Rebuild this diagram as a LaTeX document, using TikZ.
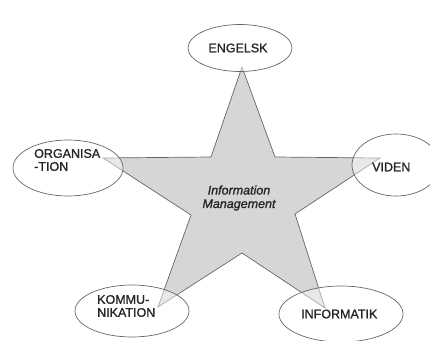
\documentclass[tikz,border=0pt]{standalone}
\usepackage{fontspec}
\setmainfont{Liberation Sans}
\newfontfamily\lblfont[FakeBold=1.2]{Liberation Sans}
\usetikzlibrary{shapes.geometric}
\definecolor{starfill}{HTML}{D6D6D6}
\definecolor{lineg}{HTML}{666666}
\begin{document}
\begin{tikzpicture}[x=1pt,y=-1pt,
  oval/.style={ellipse,draw=lineg,line width=0.7pt,fill=white,fill opacity=0.45,inner sep=0pt},
  lbl/.style={font=\lblfont\fontsize{12.5}{13}\selectfont,text=black!85,align=left,inner sep=0pt},
  starpath/.style={draw=lineg,fill=starfill,line width=0.7pt,line join=miter}]
\useasboundingbox (0,0) rectangle (430,340);
% star vertices
\coordinate (pT) at (242,67);
\coordinate (iUR) at (275,157);
\coordinate (pR) at (380,158);
\coordinate (iR) at (295,214);
\coordinate (pBR) at (325,308);
\coordinate (iB) at (242,253);
\coordinate (pBL) at (158,307);
\coordinate (iL) at (191,215);
\coordinate (pL) at (103,158);
\coordinate (iUL) at (211,157);
\draw[starpath] (pT) -- (iUR) -- (pR) -- (iR) -- (pBR) -- (iB) -- (pBL) -- (iL) -- (pL) -- (iUL) -- cycle;
% ellipses
\node[oval,minimum width=104pt,minimum height=47pt] (engelsk) at (240,48) {};
\node[oval,minimum width=110pt,minimum height=56pt] (organ) at (68,168) {};
\node[oval,minimum width=88pt,minimum height=62pt] (viden) at (396,165) {};
\node[oval,minimum width=114pt,minimum height=52pt] (kommu) at (132,311) {};
\node[oval,minimum width=124pt,minimum height=56pt] (informatik) at (341,314) {};
% labels
\node[lbl] (tEng) at (238,48) {ENGELSK};
\node[lbl,anchor=west] (tOrg) at (34,160) {ORGANISA\\-TION};
\node[lbl,anchor=west] (tVid) at (372,167) {VIDEN};
\node[lbl,anchor=west] (tKom) at (97,306) {KOMMU-\\NIKATION};
\node[lbl,anchor=west] (tInf) at (301,314) {INFORMATIK};
\node[lbl,align=center,font=\lblfont\fontsize{12.5}{13.5}\selectfont\itshape] (center) at (239,198) {Information\\Management};
\end{tikzpicture}
\end{document}
